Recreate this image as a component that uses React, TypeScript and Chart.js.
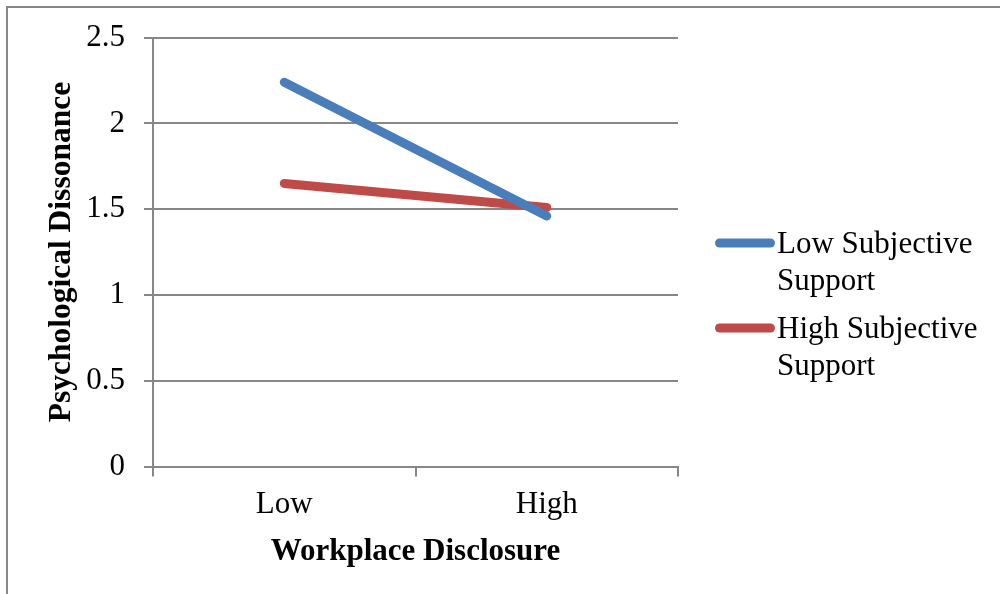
import React, { useEffect, useRef } from "react";
import { Chart, registerables } from "chart.js";

Chart.register(...registerables);

const categories = ["Low", "High"];
const lowSupport = [2.24, 1.46];
const highSupport = [1.65, 1.51];
const seriesNames = [["Low Subjective", "Support"], ["High Subjective", "Support"]];
const yTicks = [0, 0.5, 1, 1.5, 2, 2.5];
const yTickLabels = ["0", "0.5", "1", "1.5", "2", "2.5"];

const BLUE = "#4A7EBB";
const RED = "#BE4B48";
const GRID = "#878787";
const FONT = "'Liberation Serif', 'Times New Roman', serif";

export default function App() {
  const ref = useRef<HTMLCanvasElement | null>(null);

  useEffect(() => {
    if (!ref.current) return;

    const framePlugin = {
      id: "frame",
      afterDraw(chart: any) {
        const ctx = chart.ctx;
        ctx.save();
        ctx.strokeStyle = GRID;
        ctx.lineWidth = 2;
        ctx.beginPath();
        ctx.moveTo(7, 594);
        ctx.lineTo(7, 7);
        ctx.lineTo(1000, 7);
        ctx.stroke();
        ctx.restore();
      },
    };

    const legendPlugin = {
      id: "customLegend",
      afterDraw(chart: any) {
        const ctx = chart.ctx;
        const colors = [BLUE, RED];
        const lineY = [243, 328];
        const baseY = [253, 338];
        ctx.save();
        ctx.font = `31px ${FONT}`;
        ctx.fillStyle = "#000";
        ctx.textAlign = "left";
        ctx.textBaseline = "alphabetic";
        chart.data.datasets.forEach((ds: any, i: number) => {
          ctx.strokeStyle = colors[i];
          ctx.lineWidth = 9;
          ctx.lineCap = "round";
          ctx.beginPath();
          ctx.moveTo(719.5, lineY[i]);
          ctx.lineTo(770.5, lineY[i]);
          ctx.stroke();
          const lines = seriesNames[i];
          lines.forEach((t, j) => {
            ctx.fillText(t, 777, baseY[i] + j * 37);
          });
        });
        ctx.restore();
      },
    };

    const chart = new Chart(ref.current, {
      type: "line",
      data: {
        labels: categories,
        datasets: [
          {
            label: seriesNames[0].join(" "),
            data: lowSupport,
            borderColor: BLUE,
            backgroundColor: BLUE,
            borderWidth: 9,
            borderCapStyle: "round",
            pointRadius: 0,
            tension: 0,
          },
          {
            label: seriesNames[1].join(" "),
            data: highSupport,
            borderColor: RED,
            backgroundColor: RED,
            borderWidth: 9,
            borderCapStyle: "round",
            pointRadius: 0,
            tension: 0,
          },
        ],
      },
      options: {
        responsive: false,
        animation: false,
        devicePixelRatio: 1,
        layout: { padding: { top: 37.5, right: 322, left: 0, bottom: 0 } },
        plugins: {
          legend: { display: false },
          tooltip: { enabled: false },
        },
        scales: {
          x: {
            type: "category",
            offset: true,
            afterFit: (s: any) => {
              s.height = 127.5;
            },
            grid: {
              offset: true,
              drawOnChartArea: false,
              drawTicks: true,
              tickLength: 10,
              color: GRID,
              lineWidth: 2,
            },
            border: { color: GRID, width: 2 },
            ticks: {
              color: "#000",
              padding: 10,
              font: { family: FONT, size: 31 },
            },
            title: {
              display: true,
              text: "Workplace Disclosure",
              color: "#000",
              font: { family: FONT, size: 31, weight: "bold" },
              padding: { top: 0, bottom: 23 },
            },
          },
          y: {
            min: 0,
            max: 2.5,
            afterFit: (s: any) => {
              s.width = 153;
            },
            afterBuildTicks: (s: any) => {
              s.ticks = yTicks.map((v) => ({ value: v }));
            },
            grid: {
              color: GRID,
              lineWidth: 2,
              tickLength: 9,
            },
            border: { color: GRID, width: 2 },
            ticks: {
              color: "#000",
              padding: 19,
              font: { family: FONT, size: 31 },
              callback: (v: any) => {
                const idx = yTicks.indexOf(Number(v));
                return idx >= 0 ? yTickLabels[idx] : String(v);
              },
            },
            title: {
              display: true,
              text: "Psychological Dissonance",
              color: "#000",
              font: { family: FONT, size: 31.5, weight: "bold" },
              padding: { top: 43, bottom: 0 },
            },
          },
        },
      },
      plugins: [framePlugin, legendPlugin],
    } as any);

    return () => chart.destroy();
  }, []);

  return (
    <div style={{ position: "absolute", left: 0, top: 0, width: 1000, height: 594, background: "#fff" }}>
      <canvas ref={ref} width={1000} height={594} style={{ display: "block", width: 1000, height: 594 }} />
    </div>
  );
}
